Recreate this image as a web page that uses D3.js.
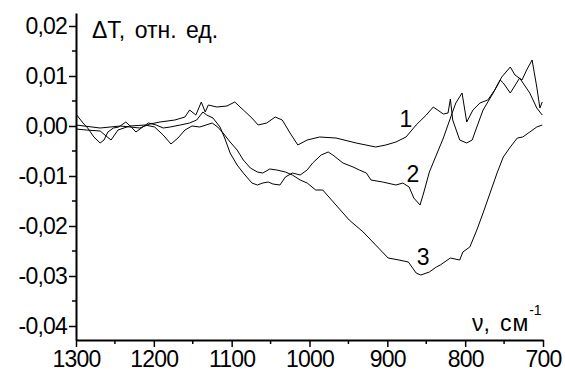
<!DOCTYPE html>
<html>
<head>
<meta charset="utf-8">
<script src="https://cdn.jsdelivr.net/npm/d3@7"></script>
<style>
  body { margin: 0; background: #fff; }
  text { font-family: Arial, "Liberation Sans", Helvetica, sans-serif; fill: #000; }
</style>
</head>
<body>
<div id="chart"></div>
<script>
// wavenumbers (cm-1) and dT values
const nu1 = [1300, 1269, 1243, 1218, 1205, 1192, 1173, 1160, 1154, 1146, 1139, 1134, 1130, 1119, 1106, 1096, 1085, 1074, 1066, 1055, 1044, 1035, 1025, 1015, 1003, 987, 966, 940, 915, 902, 889, 876, 863, 850, 841, 828, 822, 819, 816, 807, 798, 791, 785, 777, 764, 755, 751, 742, 730, 717, 708, 701];
const dT1 = [0.0002, -0.0004, 0, -0.0004, 0.0004, 0.0008, 0.0012, 0.0018, 0.0032, 0.0022, 0.0048, 0.0028, 0.0042, 0.0038, 0.004, 0.0048, 0.0032, 0.0016, 0.0002, 0.0006, 0.0018, 0.0012, -0.0014, -0.0038, -0.0028, -0.0022, -0.0024, -0.0034, -0.0042, -0.0038, -0.0032, -0.0022, 0.0002, 0.0022, 0.0038, 0.0024, 0.0026, 0.0054, 0.0012, -0.0028, -0.0034, -0.0028, -0.0002, 0.0032, 0.0066, 0.0092, 0.0086, 0.0066, 0.0096, 0.0066, 0.0036, 0.0022];

const nu2 = [1300, 1291, 1285, 1277, 1269, 1264, 1259, 1252, 1245, 1236, 1229, 1223, 1216, 1207, 1197, 1188, 1179, 1166, 1154, 1145, 1137, 1132, 1124, 1115, 1109, 1102, 1093, 1085, 1074, 1067, 1060, 1053, 1047, 1038, 1031, 1022, 1012, 1003, 996, 985, 976, 970, 957, 944, 936, 927, 921, 906, 889, 880, 872, 866, 858, 853, 846, 837, 828, 819, 812, 804, 798, 790, 781, 771, 762, 753, 742, 736, 727, 721, 714, 708, 704, 701];
const dT2 = [0.0024, 0.0006, -0.0004, -0.0022, -0.0034, -0.0028, -0.0012, -0.0004, -0.0002, 0.0008, -0.0002, -0.0012, -0.0004, 0.0006, 0.0002, -0.0004, -0.0002, 0.0002, 0.0006, 0.0012, 0.0028, 0.0022, 0.0016, -0.0002, -0.0024, -0.0054, -0.0078, -0.0094, -0.0114, -0.0118, -0.0114, -0.0112, -0.0116, -0.0118, -0.0102, -0.0094, -0.0098, -0.0088, -0.0074, -0.0058, -0.0052, -0.0058, -0.0074, -0.0082, -0.0088, -0.0094, -0.0108, -0.0112, -0.0118, -0.0114, -0.0122, -0.0144, -0.0158, -0.0132, -0.0092, -0.0058, -0.0024, 0.0016, 0.0046, 0.0066, 0.0008, 0.0032, 0.0046, 0.0052, 0.0072, 0.0098, 0.0118, 0.0102, 0.0092, 0.0112, 0.0132, 0.0078, 0.0036, 0.0048];

const nu3 = [1300, 1287, 1269, 1255, 1246, 1231, 1211, 1199, 1188, 1178, 1169, 1160, 1151, 1141, 1125, 1118, 1111, 1102, 1093, 1085, 1076, 1067, 1060, 1051, 1042, 1031, 1022, 1012, 1003, 992, 983, 966, 949, 931, 915, 899, 885, 873, 863, 857, 846, 837, 832, 819, 807, 803, 794, 785, 777, 768, 759, 751, 742, 733, 726, 717, 708, 701];
const dT3 = [-0.0006, -0.0008, -0.001, -0.0028, -0.0008, 0, 0.0002, -0.0002, -0.0018, -0.0036, -0.0024, -0.0008, 0, -0.0002, 0.0006, -0.0002, -0.0014, -0.0032, -0.0048, -0.0068, -0.0084, -0.0092, -0.0094, -0.0086, -0.0088, -0.0092, -0.0098, -0.0108, -0.0114, -0.0128, -0.0128, -0.0158, -0.0188, -0.0212, -0.0238, -0.0264, -0.0268, -0.0272, -0.0294, -0.0298, -0.0292, -0.0282, -0.0278, -0.0264, -0.0268, -0.0252, -0.0242, -0.0208, -0.0174, -0.0134, -0.0094, -0.0062, -0.0042, -0.0024, -0.0022, -0.0012, -0.0002, 0.0002];

const xTicks = [1300, 1200, 1100, 1000, 900, 800, 700];
const yTicks = [0.02, 0.01, 0, -0.01, -0.02, -0.03, -0.04];
const curveLabels = ['1', '2', '3'];
// label anchor points in data units
const labelNu = [876, 867, 854];
const labelDT = [-0.0002, -0.0112, -0.0278];

const width = 565;
const height = 387;

const svg = d3.select('#chart')
  .append('svg')
  .attr('width', width)
  .attr('height', height);

const x = d3.scaleLinear().domain([1300, 700]).range([76, 543]);
const y = d3.scaleLinear().domain([-0.0428, 0.0226]).range([340, 13]);

const fmt = (v) => d3.format('.2f')(v).replace('.', ',').replace('−', '-');

// minor ticks
const xMinor = d3.range(1250, 700, -100);
const yMinor = d3.range(0.015, -0.045, -0.01);

svg.append('g')
  .selectAll('line')
  .data(xMinor)
  .join('line')
  .attr('x1', (d) => x(d))
  .attr('x2', (d) => x(d))
  .attr('y1', 340)
  .attr('y2', 344)
  .attr('stroke', '#000')
  .attr('stroke-width', 1.5);

svg.append('g')
  .selectAll('line')
  .data(yMinor)
  .join('line')
  .attr('x1', 72)
  .attr('x2', 76)
  .attr('y1', (d) => y(d))
  .attr('y2', (d) => y(d))
  .attr('stroke', '#000')
  .attr('stroke-width', 1.5);

// axes
const xAxis = svg.append('g')
  .attr('transform', 'translate(0,340)')
  .call(d3.axisBottom(x).tickValues(xTicks).tickFormat(d3.format('d')).tickSize(7).tickSizeOuter(0).tickPadding(4));

const yAxis = svg.append('g')
  .attr('transform', 'translate(76,0)')
  .call(d3.axisLeft(y).tickValues(yTicks).tickFormat(fmt).tickSize(7).tickSizeOuter(0).tickPadding(2));

[xAxis, yAxis].forEach((g) => {
  g.select('.domain').attr('stroke', '#000').attr('stroke-width', 2);
  g.selectAll('.tick line').attr('stroke', '#000').attr('stroke-width', 1.5);
  g.selectAll('.tick text')
    .attr('font-size', '23px')
    .attr('font-family', 'Arial, "Liberation Sans", sans-serif')
    .style('letter-spacing', '-0.8px')
    .attr('fill', '#000');
});

// curves
const line = d3.line()
  .x((d) => x(d[0]))
  .y((d) => y(d[1]));

const series = [
  d3.zip(nu1, dT1),
  d3.zip(nu2, dT2),
  d3.zip(nu3, dT3),
];

svg.append('g')
  .selectAll('path')
  .data(series)
  .join('path')
  .attr('d', line)
  .attr('fill', 'none')
  .attr('stroke', '#000')
  .attr('stroke-width', 1);

// curve numbers
svg.append('g')
  .selectAll('text')
  .data(curveLabels)
  .join('text')
  .attr('x', (d, i) => x(labelNu[i]))
  .attr('y', (d, i) => y(labelDT[i]))
  .attr('text-anchor', 'middle')
  .attr('font-size', '23px')
  .text((d) => d);

// axis titles
svg.append('text')
  .attr('x', 92)
  .attr('y', 38)
  .attr('font-size', '23px')
  .style('word-spacing', '3px')
  .text('ΔT, отн. ед.');

const xTitle = svg.append('text')
  .attr('x', 472)
  .attr('y', 331)
  .attr('font-size', '23px');
xTitle.append('tspan').text('ν,');
xTitle.append('tspan')
  .attr('dx', 10)
  .style('letter-spacing', '1px')
  .text('см');
xTitle.append('tspan')
  .attr('dy', -16)
  .attr('font-size', '14px')
  .text('-1');
</script>
</body>
</html>
